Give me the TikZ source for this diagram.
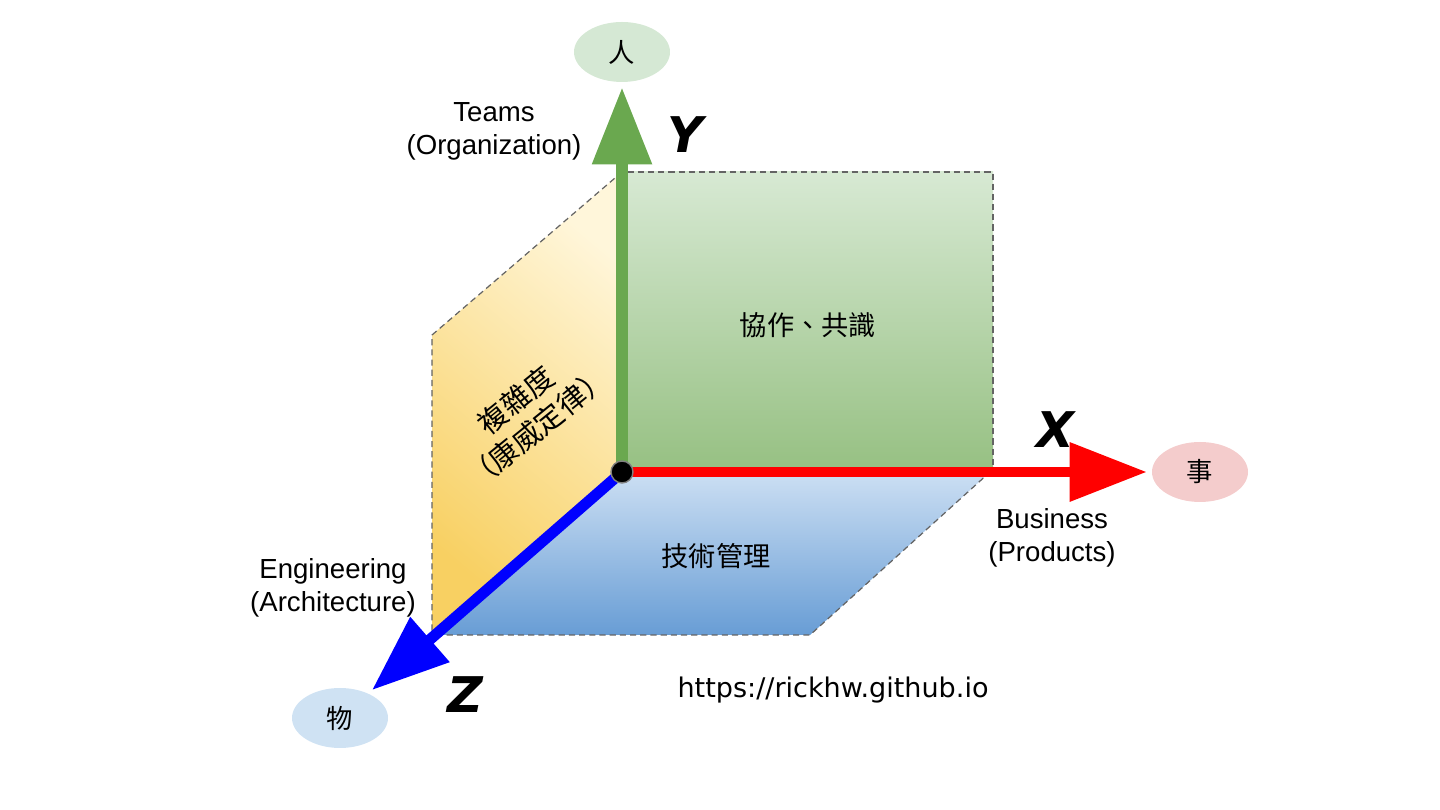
\documentclass[tikz,border=0pt]{standalone}
\usepackage{fontspec}
\usepackage{xcolor}
\usetikzlibrary{arrows.meta,shapes.geometric}
\setmainfont{Liberation Sans}
\newfontfamily\cjkfont{Noto Sans CJK TC}
\newfontfamily\urlfont{DejaVu Sans}
\newfontfamily\axisfont{DejaVu Sans}
\definecolor{panelborder}{RGB}{100,100,100}
\definecolor{yaxis}{RGB}{106,168,79}
\definecolor{xaxis}{RGB}{255,0,0}
\definecolor{zaxis}{RGB}{0,0,255}
\definecolor{renbg}{RGB}{213,232,212}
\definecolor{shibg}{RGB}{244,204,204}
\definecolor{wubg}{RGB}{207,226,243}
\definecolor{xytop}{RGB}{215,233,211}
\definecolor{xybot}{RGB}{150,192,130}
\definecolor{yztop}{RGB}{255,246,218}
\definecolor{yzbot}{RGB}{248,208,98}
\definecolor{xztop}{RGB}{204,223,243}
\definecolor{xzbot}{RGB}{104,157,213}

\begin{document}
\begin{tikzpicture}[
    x=0.02cm, y=0.02cm,
    panel/.style={draw=panelborder, line width=0.7pt, dash pattern=on 3.5pt off 2.3pt},
    axisarrow/.style={line width=0.22cm, -{Triangle[length=1.54cm, width=1.14cm]}, shorten >=0.1cm},
    endpoint/.style={ellipse, minimum width=1.92cm, minimum height=1.2cm, inner sep=0pt, font=\cjkfont\fontsize{15}{18}\selectfont},
    axisname/.style={font=\fontsize{15.7}{18.8}\selectfont, align=center},
    axisletter/.style={font=\axisfont\bfseries\itshape\fontsize{28}{28}\selectfont},
    planetext/.style={font=\cjkfont\fontsize{15.5}{20.5}\selectfont, align=center}
]
\useasboundingbox (0,0) rectangle (1440,810);

% Planes
\path[panel, top color=yztop, bottom color=yzbot, shading angle=-40]
    (432,475) -- (622,638) -- (622,338) -- (432,175) -- cycle;
\path[panel, top color=xytop, bottom color=xybot]
    (622,338) rectangle (993,638);
\path[panel, top color=xztop, bottom color=xzbot]
    (622,338) -- (990,338) -- (810,175) -- (432,175) -- cycle;

% Origin and end points
\coordinate (O) at (622,338);
\node[endpoint, fill=renbg] (ren) at (622,758) {人};
\node[endpoint, fill=shibg] (shi) at (1200,338) {事};
\node[endpoint, fill=wubg] (wu) at (340,92) {物};

% Axes
\draw[axisarrow, draw=yaxis, line width=0.24cm] (O) -- (ren);
\draw[axisarrow, draw=xaxis, line width=0.2cm] (O) -- (shi);
\draw[axisarrow, draw=zaxis] (O) -- (wu);
\node[circle, fill=black, draw=gray, line width=0.8pt, minimum size=0.44cm, inner sep=0pt] (dot) at (O) {};

% Axis names
\node[axisname] (teams) at (494,679) {Teams\\(Organization)};
\node[axisname] (business) at (1052,272) {Business\\(Products)};
\node[axisname] (engineering) at (333,222) {Engineering\\(Architecture)};
\node[axisletter] (ylet) at (685,675) {Y};
\node[axisletter] (xlet) at (1055,380) {X};
\node[axisletter] (zlet) at (465,115) {Z};

% Plane texts
\node[planetext] (xytext) at (808,485) {協作、共識};
\node[planetext] (xztext) at (716,254) {技術管理};
\node[planetext, font=\cjkfont\fontsize{16.5}{20}\selectfont, rotate=39] (yztext) at (527,396) {複雜度\\（康威定律）};

\node[font=\urlfont\fontsize{15.4}{18}\selectfont] (url) at (833,120) {https://rickhw.github.io};

\end{tikzpicture}
\end{document}
